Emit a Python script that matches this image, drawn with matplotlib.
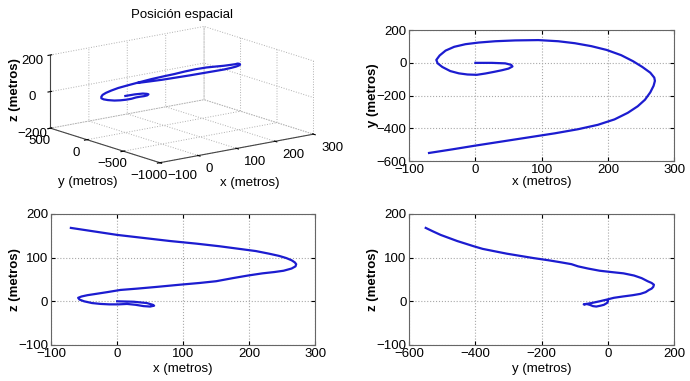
import matplotlib
matplotlib.use("Agg")
import matplotlib.pyplot as plt
from mpl_toolkits.mplot3d import Axes3D  # noqa

plt.rcParams['font.family'] = ['Liberation Sans', 'DejaVu Sans']
plt.rcParams['grid.linestyle'] = ':'
plt.rcParams['grid.color'] = '#a0a0a0'
plt.rcParams['grid.linewidth'] = 0.7

# Trajectory (metros), ordered in time
x_m = [0, 25, 45, 54, 56, 50, 40, 28, 15, 2, -12, -25, -38, -50, -57, -59, -54, -45, -32, -15,
       5, 30, 60, 95, 125, 150, 175, 198, 220, 238, 252, 264, 270, 271, 269, 264, 256, 245,
       230, 210, 185, 155, 120, 80, 40, 0, -35, -70]
y_m = [0, 0, -3, -12, -22, -35, -45, -55, -65, -73, -71, -64, -50, -25, -3, 18, 45, 75, 98, 114,
       124, 132, 137, 139, 132, 120, 102, 79, 47, 10, -25, -60, -90, -110, -140, -180, -225, -265,
       -305, -345, -378, -405, -430, -455, -480, -505, -528, -550]
z_m = [0, -1, -4, -8, -10, -12, -11, -8, -6, -7, -7, -6, -4, 0, 4, 8, 11, 14, 17, 21,
       26, 29, 33, 38, 42, 46, 53, 59, 64, 67, 70, 75, 80, 85, 89, 94, 99, 104,
       109, 115, 120, 126, 132, 138, 145, 152, 160, 168]

title_3d = "Posición espacial"
xlab, ylab, zlab = "x (metros)", "y (metros)", "z (metros)"

x_ticks = [-100, 0, 100, 200, 300]
y_ticks3d = [-1000, -500, 0, 500]
y_ticks = [-600, -400, -200, 0, 200]
z_ticks3d = [-200, 0, 200]
z_ticks = [-100, 0, 100, 200]
yy_ticks = [-600, -400, -200, 0, 200]

LC = '#1c1cd0'
LW = 1.6
TFS = 9.5
LFS = 9.5
YLFS = 9.5
YLX = -0.112

W, H = 690, 381
fig = plt.figure(figsize=(6.9, 3.81), dpi=100)

def style2d(ax):
    ax.grid(True, linestyle=':', color='#a8a8a8', linewidth=0.8)
    ax.tick_params(direction='in', labelsize=TFS, length=3, pad=2, top=True, right=True)
    for s in ax.spines.values():
        s.set_color('#666666')
        s.set_linewidth(0.8)
    ax.yaxis.set_label_coords(YLX, 0.5)

# 3D view
ax3 = fig.add_axes([0.0, 0.495, 0.52, 0.50], projection='3d')
ax3.set_proj_type('ortho')
ax3.plot(x_m, y_m, z_m, color=LC, lw=LW)
ax3.set_xlim(-100, 300)
ax3.set_ylim(-1000, 500)
ax3.set_zlim(-200, 200)
ax3.set_xticks(x_ticks)
ax3.set_yticks(y_ticks3d)
ax3.set_zticks(z_ticks3d)
ax3.view_init(elev=14, azim=-127.5)
ax3.set_box_aspect((195, 181, 76), zoom=1.4)
for a in (ax3.xaxis, ax3.yaxis, ax3.zaxis):
    a.set_pane_color((1, 1, 1, 0))
    a.pane.set_edgecolor('#bbbbbb')
    a._axinfo['grid'].update(color='#b0b0b0', linestyle=':', linewidth=0.7)
    a.line.set_color('#444444')
ax3.tick_params(labelsize=TFS, pad=-3)
plt.setp(ax3.get_xticklabels(), ha='left')
plt.setp(ax3.get_yticklabels(), ha='center')
fig.text(182 / W, 1 - 15 / H, title_3d, fontsize=LFS, ha='center', va='center')
fig.text(250 / W, 1 - 183 / H, xlab, fontsize=LFS, ha='center', va='center')
fig.text(88 / W, 1 - 182 / H, ylab, fontsize=LFS, ha='center', va='center')
fig.text(15 / W, 1 - 90 / H, zlab, fontsize=YLFS, ha='center', va='center',
         rotation=90, fontweight='bold')

# x-y
ax1 = fig.add_axes([0.593, 0.577, 0.384, 0.344])
ax1.plot(x_m, y_m, color=LC, lw=LW)
ax1.set_xlim(-100, 300); ax1.set_ylim(-600, 200)
ax1.set_xticks(x_ticks); ax1.set_yticks(y_ticks)
ax1.set_xlabel(xlab, fontsize=LFS, labelpad=0)
ax1.set_ylabel(ylab, fontsize=YLFS, fontweight='bold')
style2d(ax1)

# x-z
ax2 = fig.add_axes([0.074, 0.0945, 0.383, 0.344])
ax2.plot(x_m, z_m, color=LC, lw=LW)
ax2.set_xlim(-100, 300); ax2.set_ylim(-100, 200)
ax2.set_xticks(x_ticks); ax2.set_yticks(z_ticks)
ax2.set_xlabel(xlab, fontsize=LFS, labelpad=2)
ax2.set_ylabel(zlab, fontsize=YLFS, fontweight='bold')
style2d(ax2)

# y-z
ax4 = fig.add_axes([0.593, 0.0945, 0.384, 0.344])
ax4.plot(y_m, z_m, color=LC, lw=LW)
ax4.set_xlim(-600, 200); ax4.set_ylim(-100, 200)
ax4.set_xticks(yy_ticks); ax4.set_yticks(z_ticks)
ax4.set_xlabel(ylab, fontsize=LFS, labelpad=2)
ax4.set_ylabel(zlab, fontsize=YLFS, fontweight='bold')
style2d(ax4)

fig.savefig("out.png", dpi=100)
